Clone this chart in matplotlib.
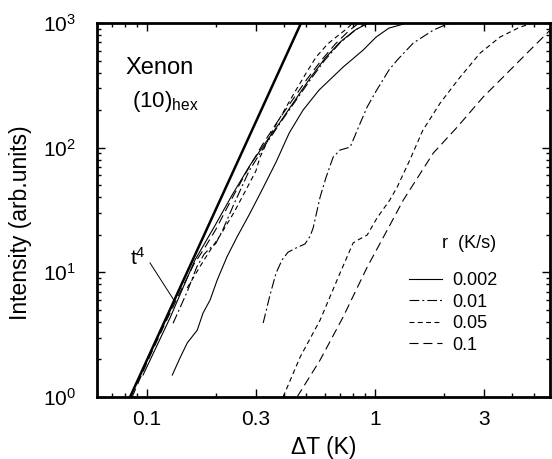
import numpy as np
import matplotlib
matplotlib.use('Agg')
import matplotlib.pyplot as plt
from matplotlib.ticker import FixedLocator, LogLocator, NullFormatter, FixedFormatter

plt.rcParams['font.family'] = ['Liberation Sans', 'DejaVu Sans']
plt.rcParams['mathtext.fontset'] = 'custom'
plt.rcParams['mathtext.rm'] = 'Liberation Sans'
plt.rcParams['mathtext.it'] = 'Liberation Sans'
plt.rcParams['lines.scale_dashes'] = False

# t^4 guide: I = (dT / t4_x0)^4
t4_x0 = 0.0842
t4_range = [0.0842, 0.473]

# collapsed curves near the t^4 line
bundle_solid_x = [0.096, 0.126, 0.162, 0.199, 0.236, 0.283, 0.330, 0.383, 0.446, 0.519, 0.604, 0.702, 0.817, 0.931]
bundle_solid_y = [1.5, 4.3, 12.5, 23.9, 41.7, 72.5, 109, 160, 241, 362, 523, 703, 877, 998]

bundle_dd_x = [0.130, 0.150, 0.165, 0.178, 0.188, 0.200, 0.215, 0.240, 0.280, 0.330, 0.390, 0.450, 0.520, 0.600, 0.700, 0.820, 0.920]
bundle_dd_y = [3.9, 7.0, 11, 14, 15.5, 17, 22, 35, 65, 105, 165, 240, 350, 500, 690, 880, 1000]

bundle_d_x = [0.150, 0.170, 0.189, 0.210, 0.240, 0.270, 0.300, 0.313, 0.350, 0.400, 0.450, 0.500, 0.551, 0.620, 0.675, 0.740, 0.800]
bundle_d_y = [7.5, 11, 15, 20, 30, 45, 65, 84, 130, 200, 290, 400, 533, 680, 771, 880, 1000]

bundle_ld_x = [0.086, 0.100, 0.120, 0.140, 0.160, 0.180, 0.200, 0.230, 0.270, 0.320, 0.380, 0.440, 0.500, 0.580, 0.670, 0.770, 0.850]
bundle_ld_y = [1.0, 1.9, 3.9, 7.0, 11.5, 16, 22, 36, 62, 105, 170, 250, 350, 500, 680, 870, 1000]

# measured curves, one per heating rate r (K/s)
r_002_x = [0.129, 0.140, 0.150, 0.166, 0.176, 0.189, 0.203, 0.224, 0.248, 0.283, 0.319, 0.368, 0.420, 0.483, 0.568, 0.724, 0.886, 1.01, 1.15, 1.33]
r_002_y = [1.50, 2.09, 2.71, 3.44, 4.72, 6.0, 8.67, 13.3, 19.2, 29.9, 45.7, 76.7, 131, 200, 290, 443, 606, 771, 910, 980]

r_01_x = [0.323, 0.346, 0.368, 0.391, 0.415, 0.451, 0.493, 0.519, 0.535, 0.574, 0.610, 0.655, 0.702, 0.777, 0.801, 0.860, 0.923, 1.01, 1.15, 1.25, 1.47, 1.80, 2.07, 2.40]
r_01_y = [3.92, 6.58, 9.87, 12.6, 14.5, 15.7, 16.9, 19.5, 22.7, 40.2, 58.1, 84.1, 95.7, 101, 115, 157, 212, 284, 419, 504, 690, 877, 980, 1000]

r_05_x = [0.395, 0.469, 0.574, 0.702, 0.801, 0.842, 0.923, 1.02, 1.16, 1.25, 1.42, 1.62, 1.93, 2.36, 2.89, 3.53, 4.32, 4.93]
r_05_y = [1.0, 2.09, 4.14, 9.87, 17.2, 18.2, 19.9, 27.3, 38.0, 48.3, 79.6, 138, 228, 368, 574, 771, 927, 998]

r_1_x = [0.455, 0.574, 0.724, 0.923, 1.13, 1.33, 1.80, 2.29, 2.98, 3.91, 4.93, 5.86]
r_1_y = [1.0, 1.98, 4.38, 11.0, 21.8, 38.0, 90.5, 146, 255, 419, 641, 877]

rates = ['0.002', '0.01', '0.05', '0.1']

dd = (7, 2.2, 1.4, 2.2)
sd = (3.5, 2.5)
ld = (6.5, 3.5)
lw = 0.8

fig = plt.figure(figsize=(5.52, 4.59), dpi=100)
ax = fig.add_axes([0.1757, 0.1351, 0.8207, 0.8148])

t = np.array(t4_range)
ax.plot(t, (t / t4_x0) ** 4, color='black', lw=1.8)

ax.plot(bundle_solid_x, bundle_solid_y, color='black', lw=lw)
ax.plot(bundle_dd_x, bundle_dd_y, color='black', lw=lw, dashes=dd)
ax.plot(bundle_d_x, bundle_d_y, color='black', lw=lw, dashes=sd)
ax.plot(bundle_ld_x, bundle_ld_y, color='black', lw=lw, dashes=ld)

ax.plot(r_002_x, r_002_y, color='black', lw=lw, label=rates[0])
ax.plot(r_01_x, r_01_y, color='black', lw=lw, dashes=dd, label=rates[1])
ax.plot(r_05_x, r_05_y, color='black', lw=lw, dashes=sd, label=rates[2])
ax.plot(r_1_x, r_1_y, color='black', lw=lw, dashes=ld, label=rates[3])

ax.set_xscale('log')
ax.set_yscale('log')
ax.set_xlim(0.0603, 5.85)
ax.set_ylim(1, 1000)

ax.xaxis.set_major_locator(FixedLocator([0.1, 0.3, 1, 3]))
ax.xaxis.set_major_formatter(FixedFormatter(['0.1', '0.3', '1', '3']))
ax.xaxis.set_minor_locator(LogLocator(base=10, subs=[2, 4, 5, 6, 7, 8, 9]))
ax.xaxis.set_minor_formatter(NullFormatter())
ax.yaxis.set_major_locator(FixedLocator([1, 10, 100, 1000]))
ax.yaxis.set_major_formatter(FixedFormatter([r'$10^{0}$', r'$10^{1}$', r'$10^{2}$', r'$10^{3}$']))
ax.yaxis.set_minor_locator(LogLocator(base=10, subs=np.arange(2, 10)))
ax.yaxis.set_minor_formatter(NullFormatter())

ax.tick_params(which='both', direction='in', top=True, right=True, width=1)
ax.tick_params(which='major', length=6, labelsize=15)
ax.tick_params(axis='x', which='major', pad=9.5)
ax.tick_params(axis='y', which='major', pad=15)
ax.tick_params(which='minor', length=3)
for s in ax.spines.values():
    s.set_linewidth(2)

ax.set_xlabel('ΔT (K)', fontsize=16.5)
ax.set_ylabel('Intensity (arb.units)', fontsize=16.5)
ax.xaxis.set_label_coords(0.5, -0.105)
ax.yaxis.set_label_coords(-0.143, 0.465)
ax.xaxis.label.set_va('top')

ax.text(0.062, 0.88, 'Xenon', transform=ax.transAxes, fontsize=17, va='center')
ax.text(0.077, 0.79, r'(10)$_{\rm hex}$', transform=ax.transAxes, fontsize=16, va='center')
ax.text(0.0912, 13.0, r't$^{4}$', fontsize=15, ha='center', va='center')
ax.plot([0.103, 0.131], [11.9, 6.0], color='black', lw=0.7)

ax.text(0.882, 0.41, 'r  (K/s)', transform=ax.transAxes, fontsize=13, ha='right', va='center')
ax.legend(loc='upper left', bbox_to_anchor=(0.689, 0.334), frameon=False, fontsize=13,
          handlelength=1.8, handletextpad=0.6, labelspacing=0.25, borderpad=0, borderaxespad=0)

fig.savefig('out.png', dpi=100)
